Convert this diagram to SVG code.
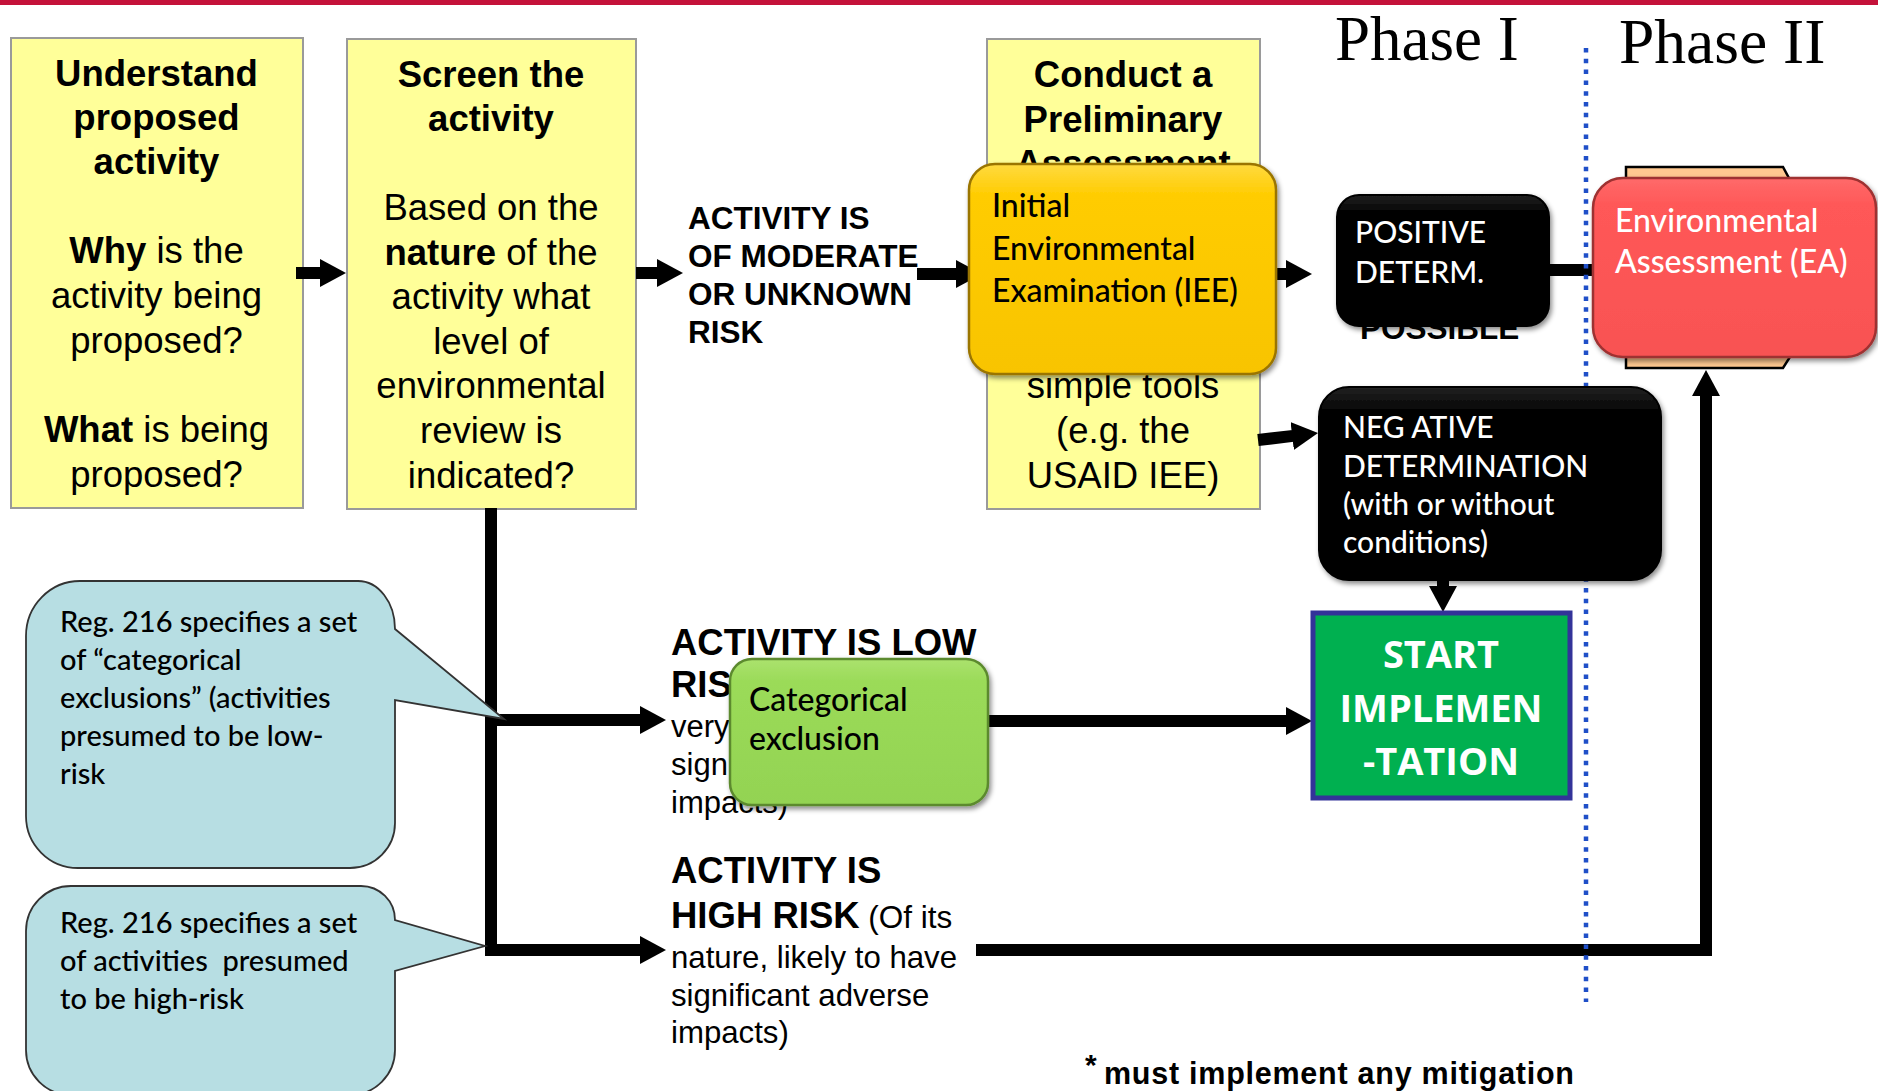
<svg xmlns="http://www.w3.org/2000/svg" width="1878" height="1091" viewBox="0 0 1878 1091">
<style>
.yb{fill:#FFFF99;stroke:#9a9a9a;stroke-width:2}
.yt{font-family:"Liberation Sans",Arial,sans-serif;font-size:36.5px;fill:#000;text-anchor:middle}
.b{font-weight:bold}
.cap{font-family:"Liberation Sans",Arial,sans-serif;font-weight:bold;fill:#000}
.reg{font-family:"Liberation Sans",Arial,sans-serif;fill:#000}
.gs{font-family:Lato,"Noto Sans",sans-serif;font-weight:500}
.wt{fill:#fff}
.conn{fill:none;stroke:#000;stroke-width:12}
.call{fill:#B7DEE3;stroke:#333;stroke-width:1.8}
.ct{font-family:Lato,"Noto Sans",sans-serif;font-weight:500;font-size:29px;fill:#000;white-space:pre}
</style>
<defs>
<marker id="ah" viewBox="0 0 26 28" markerWidth="26" markerHeight="28" refX="1" refY="14" orient="auto" markerUnits="userSpaceOnUse"><path d="M0,0 L26,14 L0,28 Z" fill="#000"/></marker>
<linearGradient id="gIEE" x1="0" y1="0" x2="0" y2="1"><stop offset="0" stop-color="#FFDA40"/><stop offset="0.15" stop-color="#FFCC00"/><stop offset="1" stop-color="#F8C400"/></linearGradient>
<linearGradient id="gRed" x1="0" y1="0" x2="0" y2="1"><stop offset="0" stop-color="#FF6A6A"/><stop offset="0.15" stop-color="#FF5858"/><stop offset="1" stop-color="#F85252"/></linearGradient>
<linearGradient id="gGreen" x1="0" y1="0" x2="0" y2="1"><stop offset="0" stop-color="#ABE26E"/><stop offset="0.15" stop-color="#9BDB59"/><stop offset="1" stop-color="#93D352"/></linearGradient>
<linearGradient id="gBlack" x1="0" y1="0" x2="0" y2="1"><stop offset="0" stop-color="#222"/><stop offset="0.12" stop-color="#050505"/><stop offset="1" stop-color="#000"/></linearGradient>
<filter id="sh" x="-10%" y="-10%" width="125%" height="130%"><feDropShadow dx="2" dy="3" stdDeviation="2.5" flood-color="#000" flood-opacity="0.45"/></filter>
</defs>

<rect x="0" y="0" width="1878" height="5" fill="#C4123A"/>

<g id="understand">
<rect class="yb" x="11" y="38" width="292" height="470"/>
<text class="yt"><tspan class="b" x="156.5" y="86">Understand</tspan><tspan class="b" x="156.5" y="130">proposed</tspan><tspan class="b" x="156.5" y="174">activity</tspan><tspan x="156.5" y="263"><tspan class="b">Why</tspan> is the</tspan><tspan x="156.5" y="308">activity being</tspan><tspan x="156.5" y="353">proposed?</tspan><tspan x="156.5" y="442"><tspan class="b">What</tspan> is being</tspan><tspan x="156.5" y="487">proposed?</tspan></text>
</g>

<g id="screen">
<rect class="yb" x="347" y="39" width="289" height="470"/>
<text class="yt"><tspan class="b" x="491" y="87">Screen the</tspan><tspan class="b" x="491" y="131">activity</tspan><tspan x="491" y="220">Based on the</tspan><tspan x="491" y="265"><tspan class="b">nature</tspan> of the</tspan><tspan x="491" y="309">activity what</tspan><tspan x="491" y="354">level of</tspan><tspan x="491" y="398">environmental</tspan><tspan x="491" y="443">review is</tspan><tspan x="491" y="488">indicated?</tspan></text>
</g>

<g id="conduct">
<rect class="yb" x="987" y="39" width="273" height="470"/>
<text class="yt"><tspan class="b" x="1123" y="87">Conduct a</tspan><tspan class="b" x="1123" y="132">Preliminary</tspan><tspan class="b" x="1123" y="176">Assessment</tspan><tspan x="1123" y="398">simple tools</tspan><tspan x="1123" y="443">(e.g. the</tspan><tspan x="1123" y="488">USAID IEE)</tspan></text>
</g>

<g id="phase-labels">
<text x="1335" y="60" font-family="'Liberation Serif','Times New Roman',serif" font-size="63">Phase I</text>
<text x="1619" y="63" font-family="'Liberation Serif','Times New Roman',serif" font-size="63.5">Phase II</text>
</g>

<g id="moderate-label">
<text class="cap" font-size="31.5"><tspan x="688" y="229">ACTIVITY IS</tspan><tspan x="688" y="267">OF MODERATE</tspan><tspan x="688" y="305">OR UNKNOWN</tspan><tspan x="688" y="343">RISK</tspan></text>
</g>

<g id="possible-label">
<text class="cap" font-size="31.5" x="1360" y="339">POSSIBLE</text>
</g>

<g id="low-label">
<text class="cap" font-size="36.5" x="671" y="655">ACTIVITY IS LOW</text>
<text class="cap" font-size="36.5" x="671" y="697">RIS</text>
<text class="reg" font-size="31"><tspan x="671" y="737">very</tspan><tspan x="671" y="775">signi</tspan><tspan x="671" y="813">impacts)</tspan></text>
</g>

<g id="high-label">
<text class="cap" font-size="36.5" x="671" y="883">ACTIVITY IS</text>
<text x="671" y="928"><tspan class="cap" font-size="36.5">HIGH RISK</tspan><tspan class="reg" font-size="31.5"> (Of its</tspan></text>
<text class="reg" font-size="31.2"><tspan x="671" y="968">nature, likely to have</tspan><tspan x="671" y="1006">significant adverse</tspan><tspan x="671" y="1043">impacts)</tspan></text>
</g>

<g id="footnote">
<text class="cap" font-size="30" x="1085" y="1075">*</text>
<text class="cap" font-size="30.5" x="1104" y="1084" textLength="470" lengthAdjust="spacing">must implement any mitigation</text>
</g>

<g id="connectors">
<line class="conn" x1="296" y1="273" x2="321" y2="273" marker-end="url(#ah)"/>
<line class="conn" x1="636" y1="273" x2="658" y2="273" marker-end="url(#ah)"/>
<line class="conn" x1="917" y1="274" x2="957" y2="274" marker-end="url(#ah)"/>
<line class="conn" x1="1270" y1="274" x2="1287" y2="274" marker-end="url(#ah)"/>
<line class="conn" x1="1549" y1="270" x2="1598" y2="270"/>
<line class="conn" x1="1258" y1="440" x2="1293.2" y2="435.9" marker-end="url(#ah)"/>
<line class="conn" x1="1443" y1="575" x2="1443" y2="587" marker-end="url(#ah)"/>
<path class="conn" d="M491,508 V950 H641" stroke-linejoin="miter" marker-end="url(#ah)"/>
<path class="conn" d="M491,720 H641" marker-end="url(#ah)"/>
<line class="conn" x1="988" y1="721" x2="1287" y2="721" marker-end="url(#ah)"/>
<path class="conn" d="M976,950 H1706 V395" stroke-linejoin="miter" marker-end="url(#ah)"/>
</g>

<g id="phase-divider">
<line x1="1586" y1="48" x2="1586" y2="1002" stroke="#1F4FC8" stroke-width="4.5" stroke-dasharray="4.5 6.3"/>
</g>

<g id="iee">
<rect x="969" y="164" width="307" height="210" rx="26" fill="url(#gIEE)" stroke="#9A7400" stroke-width="2.5" filter="url(#sh)"/>
<text class="gs" font-size="32"><tspan x="992" y="217">Initial</tspan><tspan x="992" y="260">Environmental</tspan><tspan x="992" y="302">Examination (IEE)</tspan></text>
</g>

<g id="positive">
<rect x="1337" y="195" width="212" height="131" rx="22" fill="url(#gBlack)" stroke="#000" stroke-width="2" filter="url(#sh)"/>
<text class="gs wt" font-size="30"><tspan x="1355" y="243">POSITIVE</tspan><tspan x="1355" y="283">DETERM.</tspan></text>
</g>

<g id="negative">
<rect x="1319" y="387" width="342" height="193" rx="30" fill="url(#gBlack)" stroke="#000" stroke-width="2" filter="url(#sh)"/>
<text class="gs wt" font-size="30"><tspan x="1343" y="438">NEG ATIVE</tspan><tspan x="1343" y="477">DETERMINATION</tspan><tspan x="1343" y="515">(with or without</tspan><tspan x="1343" y="553">conditions)</tspan></text>
</g>

<g id="ea">
<path d="M1626,167 H1783 L1790,180 V357 L1783,368 H1626 Z" fill="#FFC890" stroke="#000" stroke-width="2.5"/>
<rect x="1593" y="178" width="283" height="179" rx="30" fill="url(#gRed)" stroke="#9E3030" stroke-width="2.5" filter="url(#sh)"/>
<text class="gs wt" font-size="32"><tspan x="1615" y="232">Environmental</tspan><tspan x="1615" y="273">Assessment (EA)</tspan></text>
</g>

<g id="categorical">
<rect x="730" y="659" width="258" height="146" rx="22" fill="url(#gGreen)" stroke="#5C8A2E" stroke-width="2.5" filter="url(#sh)"/>
<text class="gs" font-size="32"><tspan x="749" y="711">Categorical</tspan><tspan x="749" y="750">exclusion</tspan></text>
</g>

<g id="start">
<rect x="1313" y="613" width="257" height="185" fill="#00B050" stroke="#333399" stroke-width="5"/>
<text font-family="'Open Sans',Calibri,sans-serif" font-weight="bold" font-size="38" fill="#fff" text-anchor="middle"><tspan x="1441" y="668">START</tspan><tspan x="1441" y="722">IMPLEMEN</tspan><tspan x="1441" y="775">-TATION</tspan></text>
</g>

<g id="callout-low">
<path class="call" d="M80,581 H358 A37,48 0 0 1 395,629 L504,719 L395,700 V823 A45,45 0 0 1 350,868 H78 A52,52 0 0 1 26,816 V636 A54,55 0 0 1 80,581 Z"/>
<text class="ct"><tspan x="60" y="632">Reg. 216 specifies a set</tspan><tspan x="60" y="670">of “categorical</tspan><tspan x="60" y="708">exclusions” (activities</tspan><tspan x="60" y="746">presumed to be low-</tspan><tspan x="60" y="784">risk</tspan></text>
</g>

<g id="callout-high">
<path class="call" d="M71,886 H361 A34,34 0 0 1 395,920 L485,946 L395,971 V1050 A45,45 0 0 1 350,1095 H71 A45,45 0 0 1 26,1050 V931 A45,45 0 0 1 71,886 Z"/>
<text class="ct"><tspan x="60" y="933">Reg. 216 specifies a set</tspan><tspan x="60" y="971">of activities  presumed</tspan><tspan x="60" y="1009">to be high-risk</tspan></text>
</g>
</svg>
